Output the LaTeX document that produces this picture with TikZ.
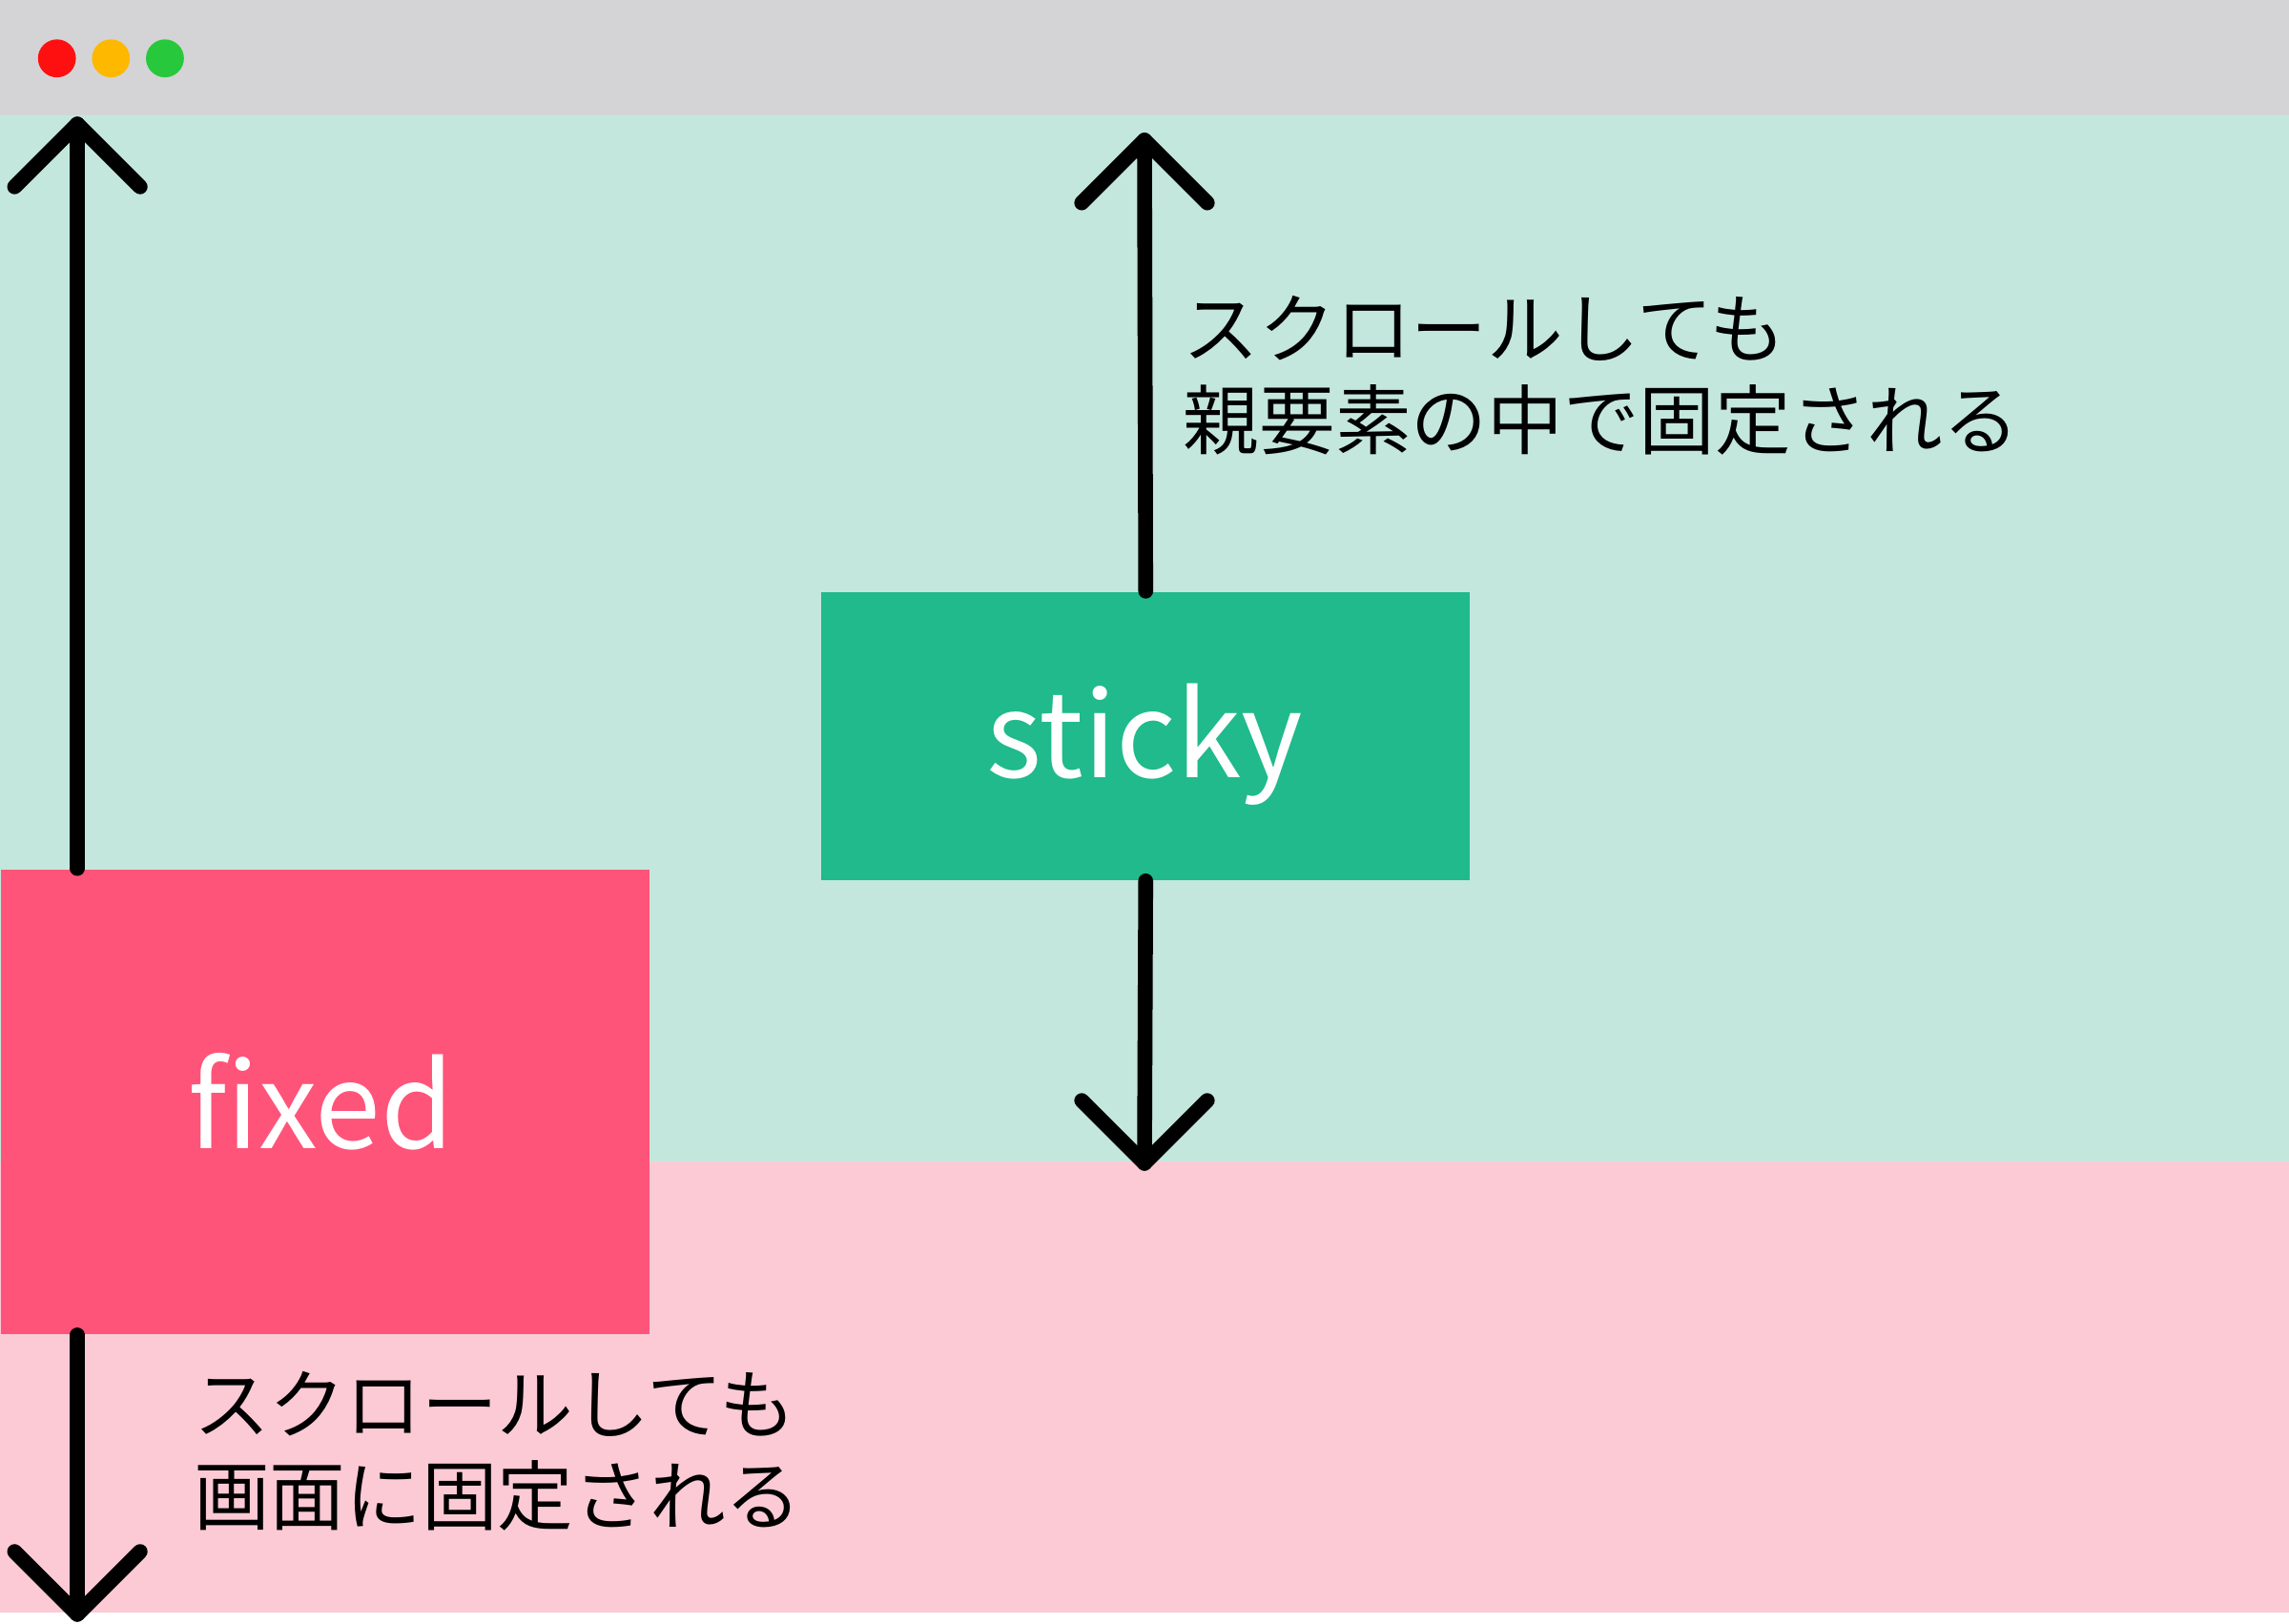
\documentclass[tikz,border=0pt]{standalone}
\usepackage{fontspec}
\setmainfont{Noto Sans CJK JP}
\begin{document}
\begin{tikzpicture}[x=0.01cm,y=-0.01cm,
  arr/.style={line width=2.9pt,line cap=round,line join=round,black},
  lbl/.style={anchor=west,inner sep=0,font=\fontsize{14.8}{17}\selectfont,text=black},
  big/.style={text=white,font=\fontsize{23}{27}\selectfont}]
\useasboundingbox (0,0) rectangle (1568,1112);
\fill[white] (0,0) rectangle (1568,1112);
\fill[fill={rgb,255:red,212;green,212;blue,214}] (0,0) rectangle (1568,79);
\fill[fill={rgb,255:red,196;green,231;blue,221}] (0,79) rectangle (1568,796);
\fill[fill={rgb,255:red,251;green,202;blue,213}] (0,796) rectangle (1568,1105);
\fill[fill={rgb,255:red,255;green,16;blue,16}] (39,40) circle (13);
\fill[fill={rgb,255:red,255;green,184;blue,0}] (76,40) circle (13);
\fill[fill={rgb,255:red,40;green,200;blue,60}] (113,40) circle (13);
\node[fill={rgb,255:red,255;green,84;blue,121},minimum width=4.44cm,minimum height=3.18cm,inner sep=0,anchor=north west] (fixed) at (0,595) {};
\node[big] at (220,755) {fixed};
\node[fill={rgb,255:red,32;green,186;blue,140},minimum width=4.44cm,minimum height=1.97cm,inner sep=0,anchor=north west] (sticky) at (562,405) {};
\node[big] at (784,510) {sticky};
\coordinate (ft) at (53,85);
\coordinate (fb) at (53,1106);
\coordinate (st) at (784,96);
\coordinate (sb) at (784,797);
\draw[arr] (ft) -- (fixed.north west -| ft);
\draw[arr] (10,128) -- (ft) -- (96,128);
\draw[arr] (fixed.south west -| fb) -- (fb);
\draw[arr] (10,1063) -- (fb) -- (96,1063);
\draw[arr] (st) -- (sticky.north);
\draw[arr] (741,139) -- (st) -- (827,139);
\draw[arr] (sticky.south) -- (sb);
\draw[arr] (741,754) -- (sb) -- (827,754);
\node[lbl] at (810,225) {スクロールしても};
\node[lbl] at (810,288) {親要素の中で固定される};
\node[lbl] at (132,962) {スクロールしても};
\node[lbl] at (132,1025) {画面に固定される};
\end{tikzpicture}
\end{document}
